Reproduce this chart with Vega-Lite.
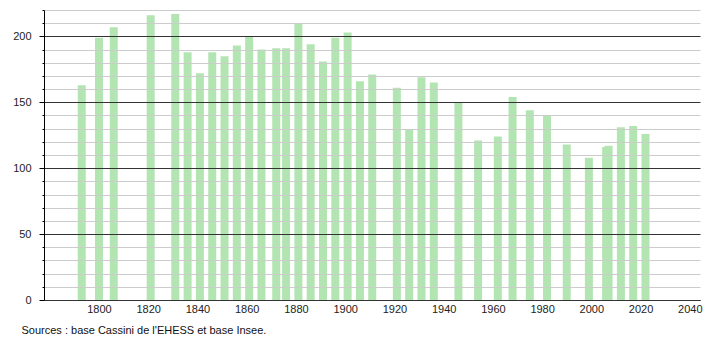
{
  "$schema": "https://vega.github.io/schema/vega-lite/v6.json",
  "width": 656,
  "height": 290,
  "autosize": "none",
  "padding": {"left": 44, "top": 10, "right": 10, "bottom": 40},
  "background": "white",
  "config": {
    "view": {"stroke": null},
    "font": "Liberation Sans"
  },
  "data": {
    "values": [
      {"annee": 1793, "population": 163},
      {"annee": 1800, "population": 199},
      {"annee": 1806, "population": 207},
      {"annee": 1821, "population": 216},
      {"annee": 1831, "population": 217},
      {"annee": 1836, "population": 188},
      {"annee": 1841, "population": 172},
      {"annee": 1846, "population": 188},
      {"annee": 1851, "population": 185},
      {"annee": 1856, "population": 193},
      {"annee": 1861, "population": 200},
      {"annee": 1866, "population": 190},
      {"annee": 1872, "population": 191},
      {"annee": 1876, "population": 191},
      {"annee": 1881, "population": 210},
      {"annee": 1886, "population": 194},
      {"annee": 1891, "population": 181},
      {"annee": 1896, "population": 199},
      {"annee": 1901, "population": 203},
      {"annee": 1906, "population": 166},
      {"annee": 1911, "population": 171},
      {"annee": 1921, "population": 161},
      {"annee": 1926, "population": 129},
      {"annee": 1931, "population": 169},
      {"annee": 1936, "population": 165},
      {"annee": 1946, "population": 150},
      {"annee": 1954, "population": 121},
      {"annee": 1962, "population": 124},
      {"annee": 1968, "population": 154},
      {"annee": 1975, "population": 144},
      {"annee": 1982, "population": 140},
      {"annee": 1990, "population": 118},
      {"annee": 1999, "population": 108},
      {"annee": 2006, "population": 116},
      {"annee": 2007, "population": 117},
      {"annee": 2012, "population": 131},
      {"annee": 2017, "population": 132},
      {"annee": 2022, "population": 126}
    ]
  },
  "mark": {"type": "bar", "size": 8, "color": "#b3e5b3"},
  "encoding": {
    "x": {
      "field": "annee",
      "type": "quantitative",
      "scale": {"domain": [1779.7, 2042.1], "nice": false, "zero": false},
      "axis": {
        "values": [1800, 1820, 1840, 1860, 1880, 1900, 1920, 1940, 1960, 1980, 2000, 2020, 2040],
        "format": "d",
        "ticks": false,
        "grid": false,
        "domainColor": "#000000",
        "labelFontSize": 11,
        "labelColor": "#222222",
        "labelPadding": 3,
        "labelFlush": false,
        "title": "Sources : base Cassini de l'EHESS et base Insee.",
        "titleFontSize": 11,
        "titleFontWeight": "normal",
        "titleColor": "#111111",
        "titleAlign": "left",
        "titleAnchor": "start",
        "titleBaseline": "middle",
        "titleX": -23,
        "titleY": 30
      }
    },
    "y": {
      "field": "population",
      "type": "quantitative",
      "scale": {"domain": [0, 220], "nice": false},
      "axis": {
        "values": [0, 10, 20, 30, 40, 50, 60, 70, 80, 90, 100, 110, 120, 130, 140, 150, 160, 170, 180, 190, 200, 210, 220],
        "labelExpr": "datum.value % 50 === 0 ? datum.label : ''",
        "title": null,
        "zindex": 1,
        "domainColor": "#000000",
        "tickColor": "#000000",
        "tickSize": {"condition": {"test": "datum.value % 50 === 0", "value": 5}, "value": 2},
        "labelPadding": 8,
        "labelFontSize": 11,
        "labelColor": "#222222",
        "labelFlush": false,
        "gridColor": {"condition": {"test": "datum.value % 50 === 0", "value": "#333333"}, "value": "#cccccc"},
        "gridOpacity": 1,
        "gridWidth": 1
      }
    }
  }
}
